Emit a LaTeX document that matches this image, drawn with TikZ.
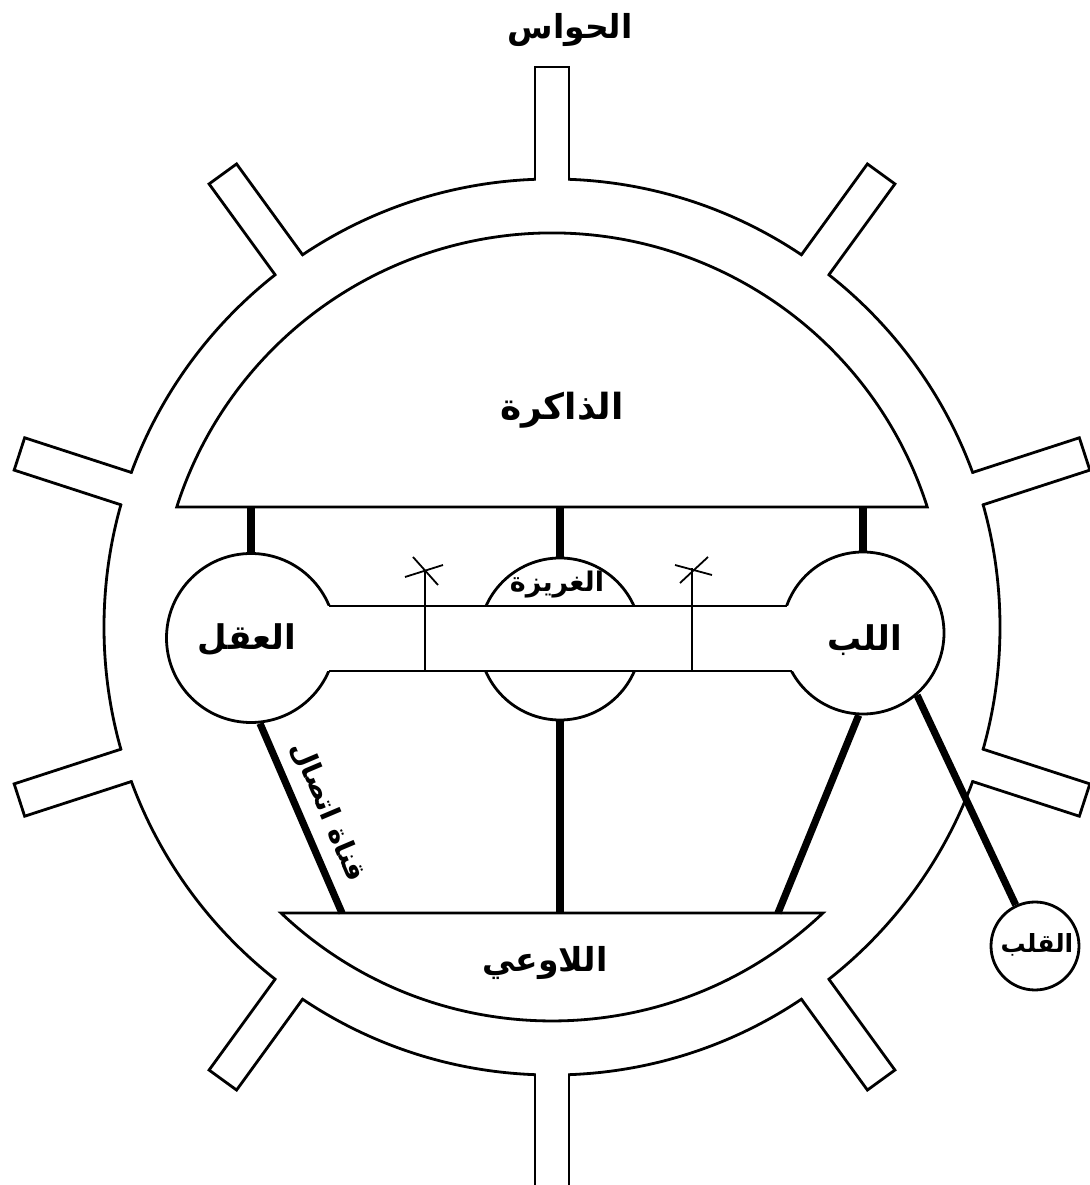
\documentclass[tikz,border=0pt]{standalone}
\usepackage{fontspec}
\newfontfamily\arabicfont[Script=Arabic]{DejaVu Sans}
\TeXXeTstate=1
\begin{document}
\begin{tikzpicture}[x=0.5pt,y=0.5pt,
  ln/.style={line width=1.4pt},
  conn/.style={line width=3.6pt},
  thinln/.style={line width=0.9pt},
  ring/.style={circle,draw,line width=1.4pt,inner sep=0pt},
  lab/.style={font=\arabicfont\bfseries\fontsize{#1}{#1}\selectfont}]
\useasboundingbox (0,0) rectangle (1090,1185);
\fill[white] (0,0) rectangle (1090,1185);
\coordinate (C) at (552,558);
% outer ring with spokes
\draw[ln] (C) circle[radius=448];
\foreach \a in {90,126,...,414}{
  \begin{scope}[shift={(C)},rotate=\a]
    \fill[white] (436,-15.6) rectangle (562,15.6);
    \draw[ln] (447.6,-17) -- (560,-17) -- (560,17) -- (447.6,17);
  \end{scope}
}
% memory segment and unconscious segment
\coordinate (memchord) at (552,678);
\coordinate (unchord) at (552,272);
\draw[ln] (C) ++(17.73:394) arc[start angle=17.73,end angle=162.27,radius=394] -- cycle;
\draw[ln] (C) ++(226.55:394) arc[start angle=226.55,end angle=313.45,radius=394] -- cycle;
% circles
\node[ring,minimum size=84.5pt] (aql) at (251,547) {};
\node[ring,minimum size=81pt] (lubb) at (863,552) {};
\node[ring,minimum size=81pt] (inst) at (560,546) {};
\node[ring,minimum size=44pt] (qalb) at (1035,239) {};
% bar
\fill[white] (251,514) rectangle (863,579);
\coordinate (bt1) at (329.2,579); \coordinate (bt2) at (786.6,579);
\coordinate (bb1) at (328.8,514); \coordinate (bb2) at (791.5,514);
\draw[ln] (bt1) -- (bt2);
\draw[ln] (bb1) -- (bb2);
% thick connectors
\coordinate (u1) at (342,272);
\coordinate (u2) at (778,272);
\draw[conn] (aql.north) -- (aql.north |- memchord);
\draw[conn] (inst.north) -- (inst.north |- memchord);
\draw[conn] (lubb.north) -- (lubb.north |- memchord);
\draw[conn] (inst.south) -- (inst.south |- unchord);
\draw[conn] (aql.-84) -- (u1);
\draw[conn] (lubb.-93) -- (u2);
\draw[conn] (lubb.-49) -- (qalb);
% X marks
\coordinate (xa0) at (425,514); \coordinate (xa) at (425,615);
\draw[thinln] (xa0) -- (xa);
\draw[thinln] (405,608) -- (443,620);
\draw[thinln] (413,628) -- (438,600);
\coordinate (xb0) at (692,514); \coordinate (xb) at (692,617);
\draw[thinln] (xb0) -- (xb);
\draw[thinln] (675,620) -- (712,610);
\draw[thinln] (680,602) -- (708,628);
% labels
\node[lab=16.5] (thawas) at (570,1155) {\beginR الحواس\endR};
\node[lab=18] (tmem) at (562,775) {\beginR الذاكرة\endR};
\node[lab=17] (taql) at (247,545) {\beginR العقل\endR};
\node[lab=17] (tlubb) at (865,545) {\beginR اللب\endR};
\node[lab=13.5] (tinst) at (557,600) {\beginR الغريزة\endR};
\node[lab=16.5] (tunc) at (545,222) {\beginR اللاوعي\endR};
\node[lab=12.5] (tqalb) at (1037,240) {\beginR القلب\endR};
\node[lab=14,rotate=-67] (tchan) at (328,373) {\beginR قناة اتصال\endR};
\end{tikzpicture}
\end{document}
